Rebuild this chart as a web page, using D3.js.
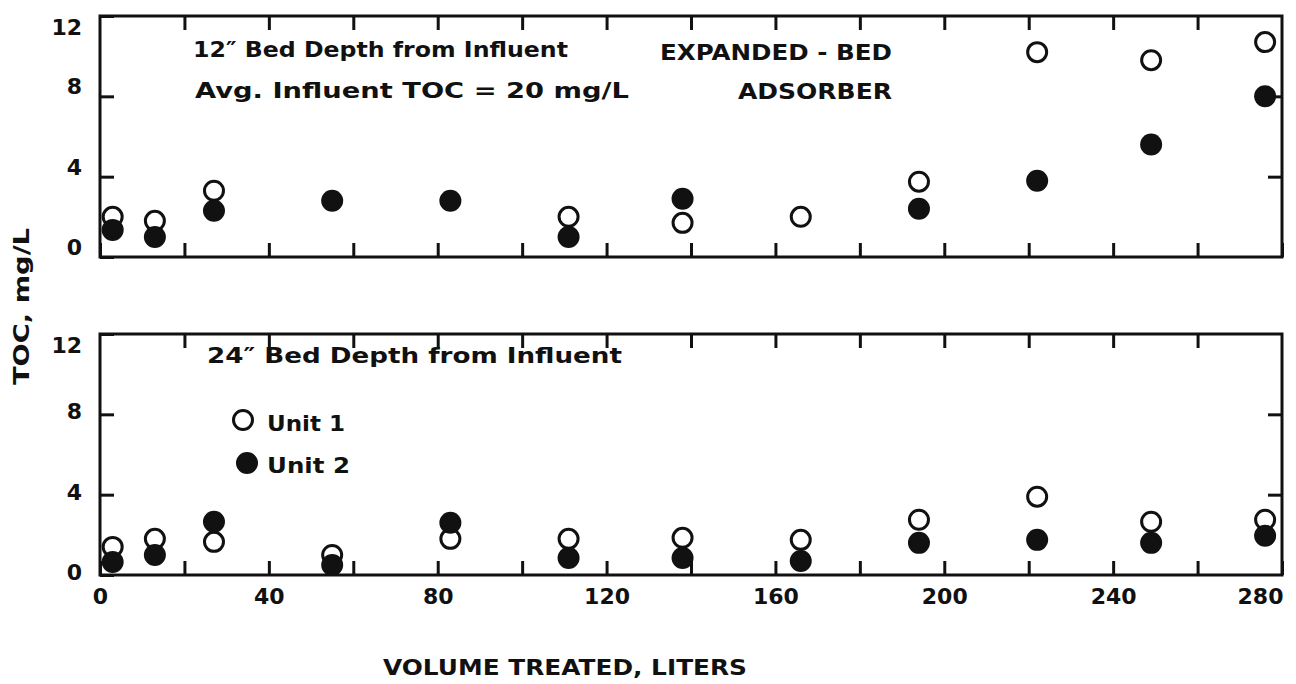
<!DOCTYPE html>
<html>
<head>
<meta charset="utf-8">
<script src="https://cdn.jsdelivr.net/npm/d3@7"></script>
<style>
  body { margin: 0; background: #fff; }
  text { font-family: 'DejaVu Sans', sans-serif; font-weight: bold; fill: #111; }
</style>
</head>
<body>
<svg id="chart" width="1296" height="684"></svg>
<script>
// TOC breakthrough, expanded-bed adsorber

// volume treated, liters (same sampling for both depths)
const volume = [3, 13, 27, 55, 83, 111, 138, 166, 194, 222, 249, 276]

// 12" bed depth, TOC mg/L
const topUnit1 = [2.0, 1.8, 3.3, null, null, 2.0, 1.7, 2.0, 3.75, 10.2, 9.8, 10.7]
const topUnit2 = [1.35, 1.0, 2.3, 2.8, 2.8, 1.0, 2.9, null, 2.4, 3.8, 5.6, 8.0]

// 24" bed depth, TOC mg/L
const bottomUnit1 = [1.4, 1.8, 1.65, 1.0, 1.8, 1.8, 1.85, 1.75, 2.75, 3.9, 2.65, 2.75]
const bottomUnit2 = [0.65, 1.0, 2.65, 0.5, 2.6, 0.85, 0.85, 0.7, 1.6, 1.75, 1.6, 1.95]

const yTicks = [0, 4, 8, 12]
const xTicks = [0, 20, 40, 60, 80, 100, 120, 140, 160, 180, 200, 220, 240, 260, 280]
const xLabels = [0, 40, 80, 120, 160, 200, 240, 280]

const left = 100
const width = 1182
const panelHeight = 241
const tickLen = 14

const svg = d3.select('#chart')

const x = d3.scaleLinear().domain([0, 280]).range([0, width])

function toPoints (values) {
  return values
    .map((v, i) => ({ vol: volume[i], toc: v }))
    .filter(d => d.toc !== null)
}

// This function makes one panel (box, ticks, circles)
function panelMaker (top, unit1, unit2, showXLabels, labelShift) {
  const y = d3.scaleLinear().domain([0, 12]).range([panelHeight, 0])

  const g = svg.append('g')
    .attr('transform', `translate(${left},${top})`)

  // ticks all point inwards
  g.append('g')
    .call(d3.axisLeft(y).tickValues(yTicks).tickSizeInner(-tickLen).tickSizeOuter(0).tickPadding(18))
    .call(a => a.selectAll('text')
      .attr('dy', d => d === 12 ? '0.85em' : '0.2em') // the top label sits below the frame corner
      .attr('y', d => d === 12 ? 0 : labelShift)
      .style('font-size', '22px'))

  g.append('g')
    .attr('transform', `translate(${width},0)`)
    .call(d3.axisRight(y).tickValues([4, 8]).tickSizeInner(-tickLen).tickSizeOuter(0).tickFormat(''))

  g.append('g')
    .call(d3.axisTop(x).tickValues(xTicks.slice(1, -1)).tickSizeInner(-tickLen).tickSizeOuter(0).tickFormat(''))

  g.append('g')
    .attr('transform', `translate(0,${panelHeight})`)
    .call(d3.axisBottom(x).tickValues(xTicks).tickSizeInner(-tickLen).tickSizeOuter(0).tickPadding(13)
      .tickFormat(d => (showXLabels && xLabels.includes(d)) ? d : ''))
    .call(a => a.selectAll('text')
      .attr('dx', d => d === 280 ? -22 : 0)
      .style('font-size', '22px'))

  g.selectAll('.domain').remove()
  g.selectAll('.tick line').attr('stroke', '#111').attr('stroke-width', 3)
  g.selectAll('.tick text').attr('fill', '#111').style('font-family', "'DejaVu Sans', sans-serif").style('font-weight', 'bold')

  g.append('rect') // the frame
    .attr('width', width)
    .attr('height', panelHeight)
    .attr('fill', 'none')
    .attr('stroke', '#111')
    .attr('stroke-width', 3)

  g.selectAll('.u1')
    .data(toPoints(unit1))
    .enter()
    .append('circle')
    .attr('cx', d => x(d.vol))
    .attr('cy', d => y(d.toc))
    .attr('r', 9.5)
    .attr('fill', '#fff')
    .attr('stroke', '#111')
    .attr('stroke-width', 3)

  g.selectAll('.u2')
    .data(toPoints(unit2))
    .enter()
    .append('circle')
    .attr('cx', d => x(d.vol))
    .attr('cy', d => y(d.toc))
    .attr('r', 11)
    .attr('fill', '#111')

  return { g, y }
}

const topPanel = panelMaker(16, topUnit1, topUnit2, false, -7)
const bottomPanel = panelMaker(334, bottomUnit1, bottomUnit2, true, 0)

// annotations, positioned in page pixels
function label (str, tx, ty, len, size) {
  svg.append('text')
    .attr('x', tx)
    .attr('y', ty)
    .attr('textLength', len)
    .attr('lengthAdjust', 'spacingAndGlyphs')
    .style('font-size', (size || 22) + 'px')
    .text(str)
}

label('12\u2033 Bed Depth from Influent', 193, 57, 375)
label('Avg. Influent  TOC = 20 mg/L', 195, 98, 434)
label('EXPANDED - BED', 660, 60, 232)
label('ADSORBER', 738, 99, 154)
label('24\u2033 Bed Depth from Influent', 207, 363, 415)

// legend
svg.append('circle').attr('cx', 243).attr('cy', 420).attr('r', 9.5)
  .attr('fill', '#fff').attr('stroke', '#111').attr('stroke-width', 3)
svg.append('circle').attr('cx', 247).attr('cy', 463).attr('r', 11).attr('fill', '#111')
label('Unit  1', 267, 431, 78)
label('Unit  2', 267, 473, 83)

// axis titles
label('VOLUME   TREATED, LITERS', 383, 675, 364)

svg.append('text')
  .attr('transform', 'translate(29,385) rotate(-90)')
  .attr('textLength', 157)
  .attr('lengthAdjust', 'spacingAndGlyphs')
  .style('font-size', '22px')
  .text('TOC,  mg/L')
</script>
</body>
</html>
